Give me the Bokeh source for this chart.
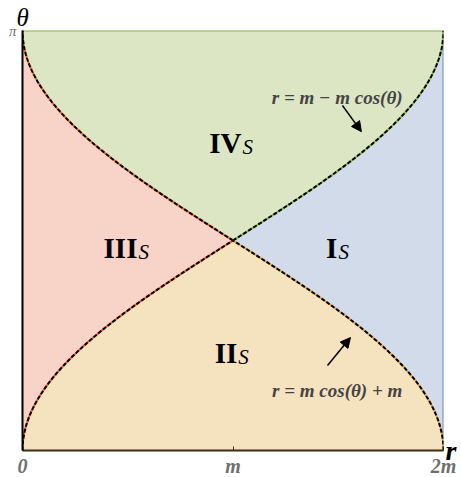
import numpy as np
from bokeh.plotting import figure
from bokeh.models import Label, Arrow, NormalHead, FixedTicker, LinearAxis, Title
from bokeh.embed import file_html
from bokeh.resources import INLINE
from bokeh.core.properties import value

# ---- data ----
M = 1.0                      # the mass scale "m"
R_MAX = 2 * M
THETA_MAX = np.pi
x_ticks = [0, M, 2 * M]
x_tick_labels = ["0", "m", "2m"]
y_ticks = [np.pi]
y_tick_labels = ["π"]
region_names = ["IV", "III", "I", "II"]
region_anchor_r = [1.040, 0.546, 1.496, 1.020]
region_anchor_theta = [2.299, 1.511, 1.511, 0.726]
eq_top = "r = m − m cos(θ)"
eq_bottom = "r = m cos(θ) + m"

# colours
c_IV, c_III, c_I, c_II = "#dde6c4", "#f8d3c8", "#d1dbea", "#f5e2bf"
line_IV, line_III, line_I, line_II = "#8cb63c", "#e8602c", "#6b8ec8", "#e9a23b"

# curves r_A = m - m cos θ ; r_B = m + m cos θ
t_lo = np.linspace(0, np.pi / 2, 200)
t_hi = np.linspace(np.pi / 2, np.pi, 200)
rA = lambda t: M - M * np.cos(t)
rB = lambda t: M + M * np.cos(t)

FONT = "Liberation Serif"

p = figure(frame_width=421, frame_height=420, min_border_left=22, min_border_top=30,
           min_border_right=18, min_border_bottom=27,
           x_range=(0, R_MAX), y_range=(0, THETA_MAX),
           output_backend="svg", toolbar_location=None, tools="")
p.outline_line_color = None
p.grid.visible = False
p.background_fill_color = "white"

# regions
p.patch(np.concatenate([[0], rA(t_lo), rB(t_hi), [0]]),
        np.concatenate([[0], t_lo, t_hi, [np.pi]]), fill_color=c_III, line_color=None)
p.patch(np.concatenate([[R_MAX], rB(t_lo), rA(t_hi), [R_MAX]]),
        np.concatenate([[0], t_lo, t_hi, [np.pi]]), fill_color=c_I, line_color=None)
p.patch(np.concatenate([rA(t_lo), rB(t_lo[::-1])]),
        np.concatenate([t_lo, t_lo[::-1]]), fill_color=c_II, line_color=None)
p.patch(np.concatenate([rB(t_hi[::-1]), rA(t_hi)]),
        np.concatenate([t_hi[::-1], t_hi]), fill_color=c_IV, line_color=None)

# borders
p.line([0, R_MAX], [np.pi, np.pi], line_color=line_IV, line_width=2)
p.line([R_MAX, R_MAX], [0, np.pi], line_color=line_I, line_width=2)

# boundary curves: coloured underlay + black dash
segs = [(rA(t_lo), t_lo, line_III), (rB(t_hi), t_hi, line_III),
        (rA(t_hi), t_hi, line_IV), (rB(t_lo), t_lo, line_II)]
for xs, ys, col in segs:
    p.line(xs, ys, line_color=col, line_width=2)
    p.line(xs, ys, line_color="black", line_width=2, line_dash="4 2")

# axes
p.xaxis.ticker = FixedTicker(ticks=x_ticks)
p.xaxis.major_label_overrides = {t: l for t, l in zip(x_ticks, x_tick_labels)}
p.xaxis.major_tick_in = 4
p.xaxis.major_tick_out = 0
p.xaxis.minor_tick_line_color = None
p.xaxis.axis_line_color = "#3d2e12"
p.xaxis.axis_line_width = 2
p.xaxis.major_tick_line_color = "#3d2e12"
p.xaxis.major_label_text_font = FONT
p.xaxis.major_label_text_font_style = "bold italic"
p.xaxis.major_label_text_font_size = "20px"
p.xaxis.major_label_text_color = "#707070"
p.xaxis.major_label_standoff = 4

p.yaxis.ticker = FixedTicker(ticks=y_ticks)
p.yaxis.major_label_overrides = {t: l for t, l in zip(y_ticks, y_tick_labels)}
p.yaxis.major_tick_in = 0
p.yaxis.major_tick_out = 0
p.yaxis.minor_tick_line_color = None
p.yaxis.axis_line_color = "black"
p.yaxis.axis_line_width = 2
p.yaxis.major_label_text_font = FONT
p.yaxis.major_label_text_font_style = "italic"
p.yaxis.major_label_text_font_size = "15px"
p.yaxis.major_label_text_color = "#707070"
p.yaxis.major_label_standoff = 6
p.yaxis.major_label_orientation = "horizontal"

# r axis title on the right, horizontal, at the bottom end
raxis = LinearAxis(ticker=FixedTicker(ticks=[]), axis_line_color=None,
                   major_tick_line_color=None, minor_tick_line_color=None,
                   axis_label="r", axis_label_orientation="horizontal",
                   axis_label_align="start", axis_label_standoff=2,
                   axis_label_text_font=FONT, axis_label_text_font_style="bold italic",
                   axis_label_text_font_size="28px", axis_label_text_color="black")
p.add_layout(raxis, "right")

# theta title above, at the left end
p.add_layout(Title(text="θ", align="left", offset=-6, text_font=FONT,
                   text_font_style="italic", text_font_size="25px",
                   text_color="black", standoff=0), "above")

# region labels: roman numeral + subscript S
p.text(region_anchor_r, region_anchor_theta, text=region_names, text_font=value(FONT),
       text_font_style="bold", text_font_size="29px", text_align="right",
       text_baseline="alphabetic", text_color="black")
p.text(region_anchor_r, region_anchor_theta, text=["S"] * 4, text_font=value(FONT),
       text_font_style="italic", text_font_size="21px", text_align="left",
       text_baseline="alphabetic", text_color="black", x_offset=1, y_offset=4)

# equations and arrows
p.add_layout(Label(x=1.495, y=2.641, text=eq_top, text_font=FONT, text_font_style="bold italic",
                   text_font_size="19px", text_align="center", text_baseline="alphabetic"))
p.add_layout(Label(x=1.495, y=0.449, text=eq_bottom, text_font=FONT, text_font_style="bold italic",
                   text_font_size="19px", text_align="center", text_baseline="alphabetic"))
p.add_layout(Arrow(x_start=1.520, y_start=2.581, x_end=1.610, y_end=2.385,
                   line_width=1.5, end=NormalHead(size=10, fill_color="black", line_color="black")))
p.add_layout(Arrow(x_start=1.449, y_start=0.636, x_end=1.558, y_end=0.845,
                   line_width=1.5, end=NormalHead(size=10, fill_color="black", line_color="black")))

open("out.html", "w").write(file_html(p, INLINE))
